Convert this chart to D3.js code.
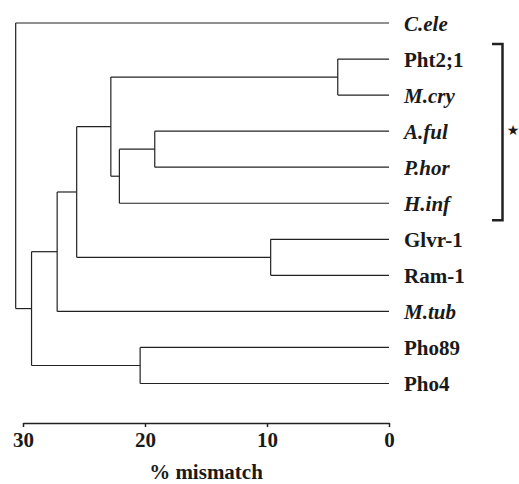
<!DOCTYPE html>
<html>
<head>
<meta charset="utf-8">
<script src="https://cdn.jsdelivr.net/npm/d3@7"></script>
<style>
  body { margin: 0; background: #fff; }
  text { font-family: "Liberation Serif", "Times New Roman", serif; font-weight: bold; fill: #1a1a1a; }
</style>
</head>
<body>
<div id="chart"></div>
<script>
var w = 519,
  h = 484;

// leaves, top to bottom
var leaves = ["C.ele", "Pht2;1", "M.cry", "A.ful", "P.hor", "H.inf", "Glvr-1", "Ram-1", "M.tub", "Pho89", "Pho4"];
var italicLeaves = ["C.ele", "M.cry", "A.ful", "P.hor", "H.inf", "M.tub"];

// joins: [name, child a, child b, % mismatch]
var joins = [
  ["n1", "Pht2;1", "M.cry", 4.2],
  ["n2", "A.ful", "P.hor", 19.2],
  ["n3", "n2", "H.inf", 22.1],
  ["n4", "n1", "n3", 22.8],
  ["n5", "Glvr-1", "Ram-1", 9.7],
  ["n6", "n4", "n5", 25.6],
  ["n7", "n6", "M.tub", 27.2],
  ["n8", "Pho89", "Pho4", 20.4],
  ["n9", "n7", "n8", 29.3],
  ["root", "C.ele", "n9", 30.6]
];

var ticks = [30, 20, 10, 0];
var bracketLeaves = ["Pht2;1", "H.inf"];

var x = d3.scaleLinear().domain([30, 0]).range([23, 389]);
var y = d3.scalePoint().domain(leaves).range([23, 383.5]);

var svg = d3.select("#chart").append("svg").attr("width", w).attr("height", h);

// build tree
var nodes = {};
leaves.forEach(function (d) { nodes[d] = { name: d, height: 0 }; });
joins.forEach(function (j) {
  nodes[j[0]] = { name: j[0], height: j[3], children: [nodes[j[1]], nodes[j[2]]] };
});
var root = d3.hierarchy(nodes["root"]);

// y position: leaves from scale, parents at mean of children
root.eachAfter(function (d) {
  if (d.children) d.py = d3.mean(d.children, function (c) { return c.py; });
  else d.py = y(d.data.name);
});

var tree = svg.append("g").attr("fill", "none").attr("stroke", "#222").attr("stroke-width", 1.2);

root.each(function (d) {
  if (d.children) {
    // vertical
    tree.append("line")
      .attr("x1", x(d.data.height)).attr("x2", x(d.data.height))
      .attr("y1", d3.min(d.children, function (c) { return c.py; }))
      .attr("y2", d3.max(d.children, function (c) { return c.py; }));
    // horizontals to children
    d.children.forEach(function (c) {
      tree.append("line")
        .attr("x1", x(d.data.height)).attr("x2", x(c.data.height))
        .attr("y1", c.py).attr("y2", c.py);
    });
  }
});

// leaf labels
svg.selectAll(".leaf")
  .data(root.leaves())
  .enter().append("text")
  .attr("class", "leaf")
  .attr("x", 404)
  .attr("y", function (d) { return d.py; })
  .attr("dy", "0.36em")
  .style("font-size", "21px")
  .style("font-style", function (d) { return italicLeaves.indexOf(d.data.name) >= 0 ? "italic" : "normal"; })
  .text(function (d) { return d.data.name; });

// bracket + star
var by1 = y(bracketLeaves[0]) - 15, by2 = y(bracketLeaves[1]) + 17;
svg.append("path")
  .attr("d", "M 492 " + by1 + " H 502.5 V " + by2 + " H 492")
  .attr("fill", "none").attr("stroke", "#222").attr("stroke-width", 2.5);
svg.append("text")
  .attr("x", 513).attr("y", (by1 + by2) / 2 - 2)
  .attr("text-anchor", "middle").attr("dy", "0.35em")
  .style("font-family", "DejaVu Sans").style("font-size", "14px")
  .text("\u2605");

// axis
var axis = svg.append("g")
  .attr("transform", "translate(0,423)")
  .call(d3.axisBottom(x).tickValues(ticks).tickSize(4).tickSizeOuter(0).tickPadding(5).tickFormat(d3.format("d")));
axis.select(".domain").attr("stroke", "#222").attr("stroke-width", 1.5);
axis.selectAll(".tick line").attr("stroke", "#222").attr("stroke-width", 1.5);
axis.selectAll(".tick text")
  .attr("fill", "#1a1a1a")
  .style("font-family", "Liberation Serif")
  .style("font-weight", "bold")
  .style("font-size", "21px");

svg.append("text")
  .attr("x", 206).attr("y", 479)
  .attr("text-anchor", "middle")
  .style("font-size", "21px")
  .text("% mismatch");
</script>
</body>
</html>
